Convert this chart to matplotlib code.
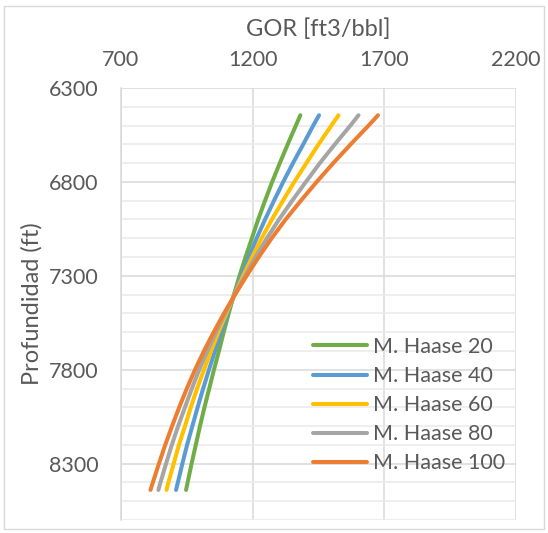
import matplotlib
matplotlib.use("Agg")
import matplotlib.pyplot as plt
from matplotlib.ticker import MultipleLocator, FixedLocator
from matplotlib.patches import Rectangle

plt.rcParams['font.family'] = ['Lato', 'DejaVu Sans']

# Depth (ft)
depth = [6445, 6500, 6600, 6700, 6800, 6900, 7000, 7100, 7200, 7300, 7400,
         7500, 7600, 7700, 7800, 7900, 8000, 8100, 8200, 8300, 8400, 8440]

# GOR [ft3/bbl] per series
haase_20 = [1381, 1364, 1333, 1303, 1274, 1247, 1221, 1197, 1173, 1150, 1129,
            1109, 1090, 1072, 1053, 1035, 1017, 1000, 984, 968, 953, 947]
haase_40 = [1452, 1430, 1392, 1353, 1316, 1281, 1247, 1215, 1186, 1157, 1130,
            1104, 1080, 1057, 1034, 1012, 991, 971, 951, 933, 916, 909]
haase_60 = [1526, 1499, 1450, 1404, 1358, 1315, 1273, 1234, 1198, 1164, 1131,
            1100, 1070, 1042, 1015, 989, 965, 943, 920, 900, 880, 873]
haase_80 = [1602, 1571, 1512, 1455, 1402, 1350, 1300, 1254, 1211, 1171, 1132,
            1095, 1061, 1028, 997, 969, 943, 917, 893, 871, 850, 842]
haase_100 = [1676, 1640, 1572, 1506, 1443, 1383, 1325, 1272, 1223, 1177, 1133,
             1091, 1052, 1015, 981, 950, 921, 894, 868, 844, 821, 812]

series_labels = ["M. Haase 20", "M. Haase 40", "M. Haase 60", "M. Haase 80", "M. Haase 100"]
series_values = [haase_20, haase_40, haase_60, haase_80, haase_100]
colors = ["#70AD47", "#5B9BD5", "#FFC000", "#A5A5A5", "#ED7D31"]

x_ticks = [700, 1200, 1700, 2200]
y_ticks = [6300, 6800, 7300, 7800, 8300]

W, H = 548, 533
fig = plt.figure(figsize=(W / 100, H / 100), dpi=100)
fig.patch.set_facecolor("white")

left, right, top, bottom = 121, 516, 88, 520
ax = fig.add_axes([left / W, 1 - bottom / H, (right - left) / W, (bottom - top) / H])

for vals, lab, c in zip(series_values, series_labels, colors):
    ax.plot(vals, depth, color=c, lw=2.9, solid_capstyle='round',
            solid_joinstyle='round', label=lab, zorder=3)

ax.set_xlim(700, 2200)
ax.set_ylim(8600, 6300)

ax.xaxis.tick_top()
ax.xaxis.set_label_position('top')
ax.xaxis.set_major_locator(FixedLocator(x_ticks))
ax.yaxis.set_major_locator(FixedLocator(y_ticks))
ax.yaxis.set_minor_locator(MultipleLocator(100))

ax.grid(axis='x', which='major', color='#D9D9D9', lw=1.1, zorder=0)
ax.grid(axis='y', which='major', color='#D9D9D9', lw=1.1, zorder=0)
ax.grid(axis='y', which='minor', color='#E9E9E9', lw=1.1, zorder=0)
ax.set_axisbelow(True)

for s in ['top', 'right', 'bottom']:
    ax.spines[s].set_visible(False)
ax.spines['left'].set_color('#D9D9D9')
ax.spines['left'].set_linewidth(1.1)

ax.tick_params(axis='both', which='both', length=0, labelcolor='#595959', labelsize=15.5)
ax.tick_params(axis='x', pad=13)
ax.tick_params(axis='y', pad=16)

ax.set_xlabel("GOR [ft3/bbl]", fontsize=17, color='#595959', va='center')
ax.xaxis.set_label_coords(0.5, (bottom - 29) / (bottom - top))
ax.set_ylabel("Profundidad (ft)", fontsize=17, color='#595959', va='center')
ax.yaxis.set_label_coords((32 - left) / (right - left), 0.5)

leg = ax.legend(loc='upper left',
                bbox_to_anchor=((313 - left) / (right - left), (bottom - 337) / (bottom - top)),
                frameon=False, fontsize=15.5, handlelength=2.5, handletextpad=0.3,
                labelspacing=0.42, borderpad=0, borderaxespad=0)
for t in leg.get_texts():
    t.set_color('#595959')

fig.patches.append(Rectangle((4 / W, 1 - 529 / H), 540 / W, 523 / H, transform=fig.transFigure,
                             fill=False, edgecolor='#D9D9D9', lw=1.0))

fig.savefig("out.png", dpi=100)
